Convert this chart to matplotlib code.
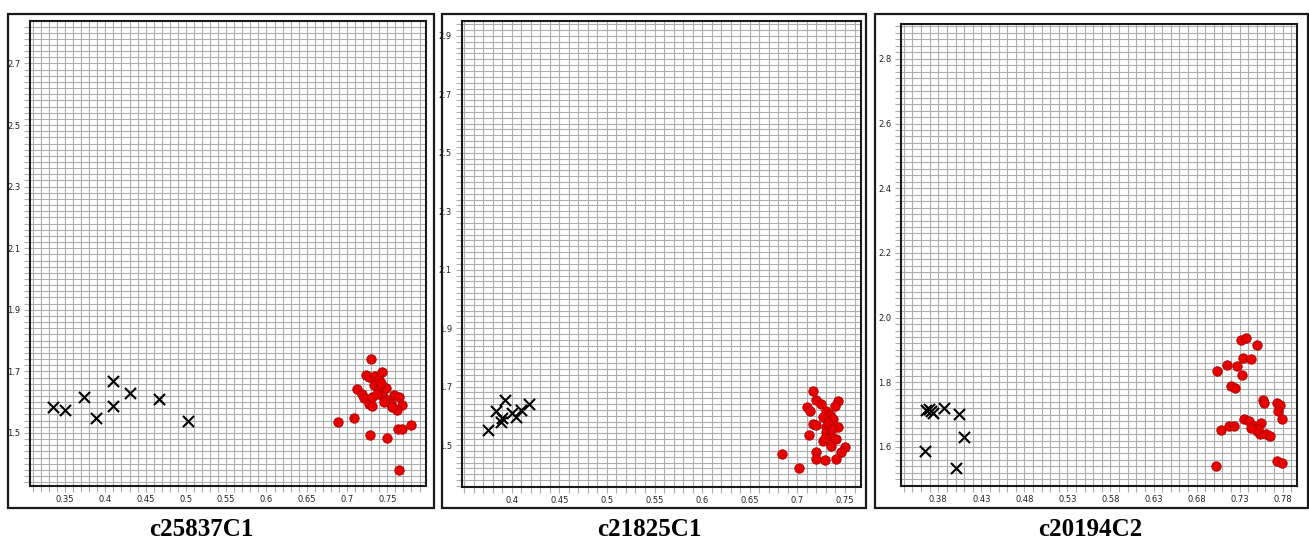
import numpy as np
import matplotlib
matplotlib.use("Agg")
import matplotlib.pyplot as plt
from matplotlib.patches import Rectangle
from matplotlib.ticker import FixedLocator, MultipleLocator

# ---- panel titles ----
titles = ["c25837C1", "c21825C1", "c20194C2"]

# ---- c25837C1 ----
cross1_x = [0.3355, 0.350, 0.374, 0.389, 0.409, 0.409, 0.430, 0.467, 0.502]
cross1_y = [1.583, 1.573, 1.616, 1.547, 1.668, 1.586, 1.630, 1.609, 1.539]
dot1_x = [0.730, 0.689, 0.709, 0.728, 0.749, 0.763, 0.768, 0.780, 0.765,
          0.7126, 0.718, 0.721, 0.727, 0.731, 0.723, 0.727, 0.735, 0.744,
          0.734, 0.7395, 0.744, 0.748, 0.750, 0.754, 0.758, 0.764, 0.768,
          0.762, 0.756, 0.746, 0.7395, 0.731, 0.737, 0.742]
dot1_y = [1.741, 1.537, 1.548, 1.494, 1.485, 1.514, 1.514, 1.527, 1.381,
          1.642, 1.628, 1.612, 1.595, 1.586, 1.689, 1.681, 1.684, 1.697,
          1.656, 1.642, 1.623, 1.645, 1.606, 1.595, 1.623, 1.617, 1.590,
          1.573, 1.584, 1.601, 1.672, 1.617, 1.628, 1.661]

# ---- c21825C1 ----
cross2_x = [0.3748, 0.383, 0.393, 0.3888, 0.390, 0.4007, 0.4045, 0.4098, 0.418]
cross2_y = [1.553, 1.617, 1.653, 1.579, 1.591, 1.611, 1.597, 1.620, 1.640]
dot2_x = [0.6835, 0.702, 0.7164, 0.7199, 0.7252, 0.7427, 0.7392, 0.7101,
          0.7129, 0.7304, 0.7339, 0.7269, 0.7374, 0.7164, 0.7199, 0.7304,
          0.7427, 0.7304, 0.7339, 0.7122, 0.7269, 0.7357, 0.7497, 0.7462,
          0.7192, 0.7192, 0.7287, 0.7402, 0.732, 0.7367, 0.7287, 0.741]
dot2_y = [1.4705, 1.420, 1.684, 1.653, 1.641, 1.651, 1.633, 1.630,
          1.615, 1.618, 1.601, 1.595, 1.589, 1.572, 1.568, 1.560,
          1.560, 1.543, 1.531, 1.533, 1.514, 1.498, 1.494, 1.475,
          1.475, 1.452, 1.447, 1.452, 1.577, 1.554, 1.525, 1.519]

# ---- c20194C2 ----
cross3_x = [0.3645, 0.3653, 0.3695, 0.3715, 0.3742, 0.387, 0.4044, 0.4102, 0.4005]
cross3_y = [1.587, 1.715, 1.717, 1.710, 1.704, 1.720, 1.701, 1.630, 1.536]
dot3_x = [0.7022, 0.7314, 0.7376, 0.7507, 0.7034, 0.7149, 0.7268, 0.7334,
          0.7434, 0.7322, 0.7199, 0.7245, 0.7576, 0.7584, 0.7730, 0.7768,
          0.7745, 0.7795, 0.7083, 0.7180, 0.7230, 0.7345, 0.7410, 0.7468,
          0.7545, 0.7499, 0.7537, 0.7603, 0.7653, 0.7514, 0.7437, 0.7737,
          0.7795]
dot3_y = [1.542, 1.930, 1.937, 1.914, 1.836, 1.854, 1.851, 1.875,
          1.872, 1.823, 1.789, 1.782, 1.746, 1.736, 1.736, 1.731,
          1.710, 1.686, 1.653, 1.664, 1.666, 1.686, 1.679, 1.666,
          1.674, 1.648, 1.641, 1.641, 1.635, 1.655, 1.658, 1.558,
          1.550]

# ---- axis ticks ----
xt1 = [0.35, 0.4, 0.45, 0.5, 0.55, 0.6, 0.65, 0.7, 0.75]
yt1 = [1.5, 1.7, 1.9, 2.1, 2.3, 2.5, 2.7]
xt2 = [0.4, 0.45, 0.5, 0.55, 0.6, 0.65, 0.7, 0.75]
yt2 = [1.5, 1.7, 1.9, 2.1, 2.3, 2.5, 2.7, 2.9]
xt3 = [0.38, 0.43, 0.48, 0.53, 0.58, 0.63, 0.68, 0.73, 0.78]
yt3 = [1.6, 1.8, 2.0, 2.2, 2.4, 2.6, 2.8]
ylab3 = ["1.6", "1.8", "2.0", "2.2", "2.4", "2.6", "2.8"]

W, H = 1309, 541
fig = plt.figure(figsize=(W / 100, H / 100), dpi=100)

grid_col = "#adadad"


def px_rect(x0, y0, x1, y1):
    # pixel box (top-left origin) -> figure fraction rect
    return [x0 / W, 1 - y1 / H, (x1 - x0) / W, (y1 - y0) / H]


def panel(rect, frame, xlim, ylim, xt, yt, ylabels, cx, cy, dx, dy, title, tx):
    fig.patches.append(Rectangle((frame[0] / W, 1 - frame[3] / H),
                                 (frame[2] - frame[0]) / W,
                                 (frame[3] - frame[1]) / H,
                                 transform=fig.transFigure, fill=False,
                                 edgecolor="#1a1a1a", linewidth=1.6))
    ax = fig.add_axes(px_rect(*rect))
    ax.set_xlim(*xlim)
    ax.set_ylim(*ylim)
    ax.xaxis.set_major_locator(FixedLocator(xt))
    ax.yaxis.set_major_locator(FixedLocator(yt))
    ax.set_xticklabels([str(v) for v in xt])
    ax.set_yticklabels(ylabels if ylabels else [str(v) for v in yt])
    ax.xaxis.set_minor_locator(MultipleLocator(0.01))
    ax.yaxis.set_minor_locator(MultipleLocator(0.02))
    ax.grid(which="both", color=grid_col, linewidth=0.8)
    ax.set_axisbelow(True)
    ax.tick_params(which="both", direction="out", length=4, width=0.8,
                   color=grid_col, labelsize=6, pad=3, labelcolor="#222222")
    for sp in ax.spines.values():
        sp.set_linewidth(1.5)
        sp.set_color("#1a1a1a")
    ax.scatter(cx, cy, marker="x", s=64, c="black", linewidths=1.5, zorder=3)
    ax.scatter(dx, dy, marker="o", s=46, c="#e60000", edgecolors="#b00000",
               linewidths=0.6, zorder=3)
    fig.text(tx / W, 1 - 530 / H, title, ha="center", va="center",
             fontsize=18, fontweight="bold", family="Liberation Serif")
    return ax


panel((30, 21, 426, 485.6), (7.5, 13.5, 434, 508),
      (0.3065, 0.798), (1.329, 2.838), xt1, yt1, None,
      cross1_x, cross1_y, dot1_x, dot1_y, titles[0], 201)
panel((461.7, 21, 861, 486.5), (442, 13.5, 866, 508),
      (0.3475, 0.7668), (1.358, 2.951), xt2, yt2, None,
      cross2_x, cross2_y, dot2_x, dot2_y, titles[1], 649)
panel((901, 24, 1297, 485.6), (875, 13.5, 1307.5, 508),
      (0.3367, 0.7966), (1.4806, 2.9076), xt3, yt3, ylab3,
      cross3_x, cross3_y, dot3_x, dot3_y, titles[2], 1090)

fig.savefig("out.png", dpi=100)
